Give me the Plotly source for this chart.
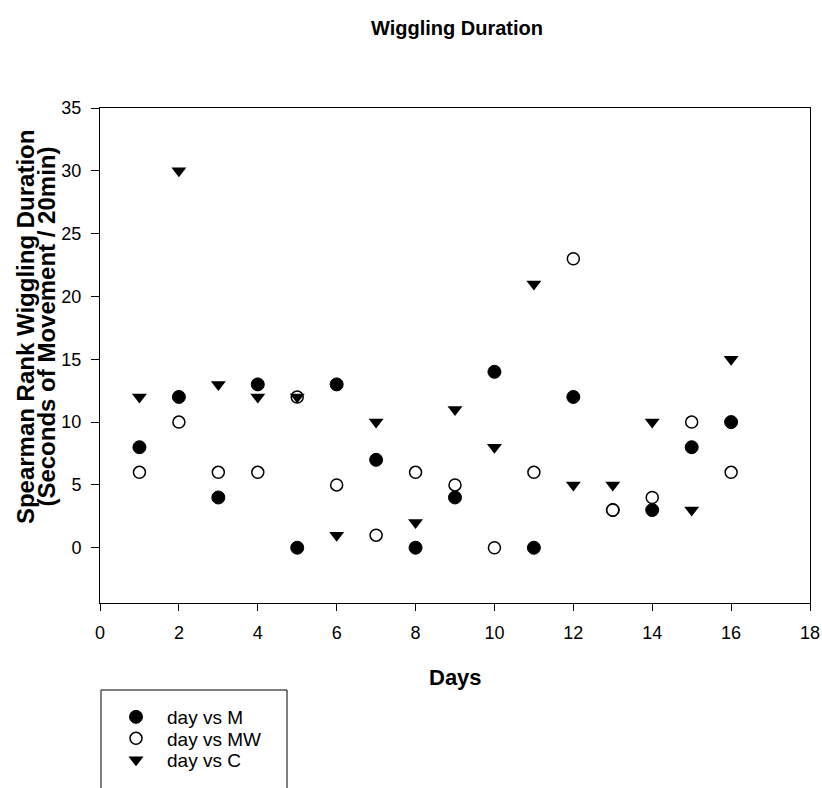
import plotly.graph_objects as go

days = list(range(1, 17))
m_vals = [8, 12, 4, 13, 0, 13, 7, 0, 4, 14, 0, 12, 3, 3, 8, 10]
mw_vals = [6, 10, 6, 6, 12, 5, 1, 6, 5, 0, 6, 23, 3, 4, 10, 6]
c_vals = [12, 30, 13, 12, 12, 1, 10, 2, 11, 8, 21, 5, 5, 10, 3, 15]

series_names = ["day vs M", "day vs MW", "day vs C"]
x_ticks = list(range(0, 19, 2))
y_ticks = list(range(0, 36, 5))
y_title_lines = ["Spearman Rank Wiggling Duration", "(Seconds of Movement / 20min)"]

FONT = "Liberation Sans, Arial, sans-serif"

# plot area in pixels (for placing the decorations)
L, R, T, B = 100, 810, 108, 603
W, H = R - L, B - T

def px_x(p):
    return (p - L) / W

def px_y(p):
    return (B - p) / H

fig = go.Figure()
fig.add_trace(go.Scatter(x=days, y=m_vals, mode="markers", name=series_names[0],
                         legend="legend",
                         marker=dict(symbol="circle", size=13, color="black",
                                     line=dict(color="black", width=1))))
fig.add_trace(go.Scatter(x=days, y=mw_vals, mode="markers", name=series_names[1],
                         legend="legend2",
                         marker=dict(symbol="circle", size=12, color="white",
                                     line=dict(color="black", width=1.5))))
fig.add_trace(go.Scatter(x=days, y=c_vals, mode="markers", name=series_names[2],
                         legend="legend3",
                         marker=dict(symbol="triangle-down", size=13, color="black",
                                     line=dict(color="black", width=0))))

leg_common = dict(xanchor="left", yanchor="top", bgcolor="rgba(0,0,0,0)",
                  borderwidth=0, itemwidth=52, itemsizing="trace",
                  font=dict(family=FONT, size=19, color="black"))

fig.update_layout(
    width=822, height=788,
    margin=dict(l=L, r=822 - R, t=T, b=788 - B, autoexpand=False),
    paper_bgcolor="white", plot_bgcolor="white",
    font=dict(family=FONT, size=18, color="black"),
    showlegend=True,
    legend=dict(x=px_x(105), y=px_y(698), **leg_common),
    legend2=dict(x=px_x(105), y=px_y(719.5), **leg_common),
    legend3=dict(x=px_x(105), y=px_y(741), **leg_common),
    title=dict(text="<b>Wiggling Duration</b>", x=457 / 822, xanchor="center",
               y=1 - 28 / 788, yanchor="middle",
               font=dict(family=FONT, size=20, color="black")),
)

fig.update_xaxes(range=[0, 18], tickvals=x_ticks, ticks="outside", ticklen=7,
                 tickwidth=1, tickcolor="black", showline=True, linecolor="black",
                 linewidth=1, mirror=True, showgrid=False, zeroline=False,
                 ticklabelstandoff=6, ticklabeloverflow="allow", automargin=False,
                 tickfont=dict(family=FONT, size=18, color="black"))
fig.update_yaxes(range=[-4.4, 35], tickvals=y_ticks, ticks="outside", ticklen=8,
                 tickwidth=1, tickcolor="black", showline=True, linecolor="black",
                 linewidth=1, mirror=True, showgrid=False, zeroline=False,
                 ticklabelstandoff=6, ticklabeloverflow="allow", automargin=False,
                 tickfont=dict(family=FONT, size=18, color="black"))

for line_text, xpx in zip(y_title_lines, [25.5, 47]):
    fig.add_annotation(text="<b>" + line_text + "</b>",
                       xref="paper", yref="y", x=px_x(xpx), y=17.6,
                       textangle=-90, xanchor="center", yanchor="middle",
                       showarrow=False, font=dict(family=FONT, size=24, color="black"))
fig.add_annotation(text="<b>Days</b>", xref="paper", yref="paper",
                   x=px_x(455), y=px_y(677), xanchor="center", yanchor="middle",
                   showarrow=False, font=dict(family=FONT, size=22, color="black"))

# legend frame (open at the bottom, as in the reference)
fig.add_shape(type="path", xref="paper", yref="paper",
              path=f"M {px_x(101)},{px_y(800)} L {px_x(101)},{px_y(690)} "
                   f"L {px_x(287)},{px_y(690)} L {px_x(287)},{px_y(800)}",
              line=dict(color="black", width=1))

fig.write_html("out.html")
